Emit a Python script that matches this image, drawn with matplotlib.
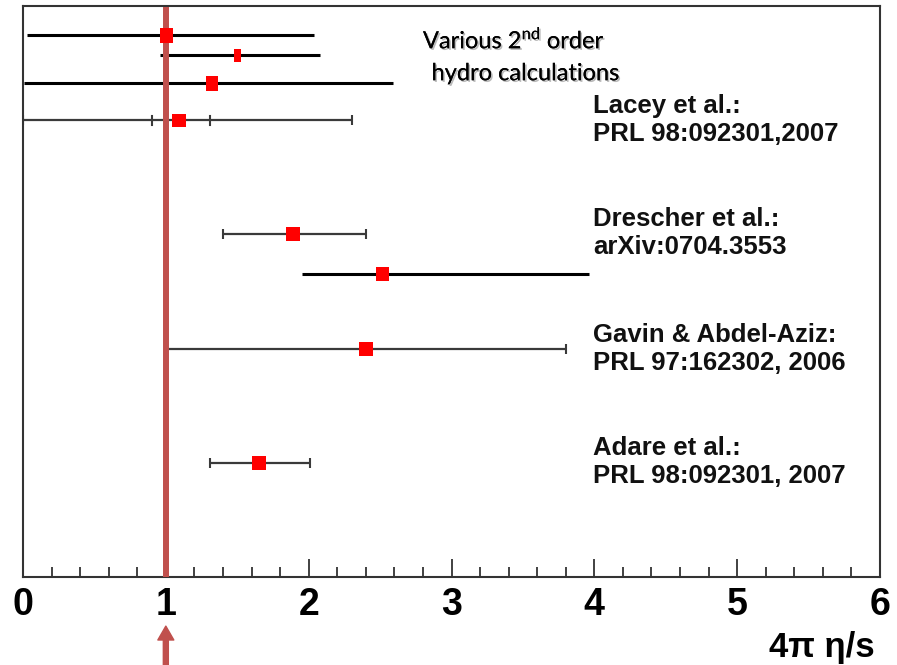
import matplotlib
matplotlib.use("Agg")
import matplotlib.pyplot as plt
import matplotlib.patheffects as pe
from matplotlib.ticker import MultipleLocator

# eta/s estimates: central value, error range, row position
rows_y = [9.5, 9.15, 8.65, 8.0, 6.0, 5.3, 4.0, 2.0]
centre = [1.00, 1.50, 1.32, 1.09, 1.89, 2.51, 2.40, 1.65]
low = [0.03, 0.96, 0.01, 0.00, 1.40, 1.95, 1.00, 1.31]
high = [2.04, 2.08, 2.59, 2.30, 2.40, 3.96, 3.80, 2.01]
# hydro rows are drawn as plain thick bars, the others with caps
hydro = [True, True, True, False, False, True, False, False]
# inner (statistical) error on the Lacey point
lacey_stat = [0.90, 1.31]

refs = [
    ("Lacey et al.:\nPRL 98:092301,2007", 8.0),
    ("Drescher et al.:\narXiv:0704.3553", 6.02),
    ("Gavin & Abdel-Aziz:\nPRL 97:162302, 2006", 4.0),
    ("Adare et al.:\nPRL 98:092301, 2007", 2.02),
]
bound = 1.0

# marker aspect (width, height) per row
shapes = [(13, 15), (7, 13), (12, 15), (14, 13), (14, 14), (13, 14), (14, 14), (14, 14)]

red = "#C0504D"

fig = plt.figure(figsize=(8.97, 6.65), dpi=100)
ax = fig.add_axes([23 / 897, 88 / 665, 857 / 897, 571 / 665])
ax.set_xlim(0, 6)
ax.set_ylim(0, 10)

for i in range(len(rows_y)):
    y = rows_y[i]
    if hydro[i]:
        ax.plot([low[i], high[i]], [y, y], color="black", lw=2.2, zorder=2,
                solid_capstyle="butt")
    else:
        ax.errorbar(centre[i], y, xerr=[[centre[i] - low[i]], [high[i] - centre[i]]],
                    fmt="none", ecolor="#3a3a3a", elinewidth=1.6, capsize=3.3,
                    capthick=1.5, zorder=2)
    w, h = shapes[i]
    m = max(w, h)
    verts = [(-w / m, -h / m), (w / m, -h / m), (w / m, h / m), (-w / m, h / m), (-w / m, -h / m)]
    ax.plot(centre[i], y, marker=verts, markersize=m * 0.72,
            color="#FF0000", mec="#FF0000", mew=0, ls="none", zorder=4)

# stat error ticks on the Lacey row
for xs in lacey_stat:
    ax.plot([xs, xs], [rows_y[3] - 0.08, rows_y[3] + 0.08], color="#3a3a3a", lw=1.5, zorder=2)

ax.axvline(bound, ymin=0, ymax=0.993, color=red, lw=4.3, zorder=3)

for txt, y in refs:
    ax.text(3.99, y, txt, fontsize=18.5, fontweight="bold", family="Liberation Sans",
            va="center", ha="left", linespacing=1.2, color="#111111")

shadow = [pe.withSimplePatchShadow(offset=(1.2, -1.2), shadow_rgbFace="#777777", alpha=0.5),
          pe.Normal()]
ax.text(2.8, 9.26, r"Various 2$^{\mathregular{nd}}$ order", fontsize=17, family="Lato",
        va="baseline", ha="left", path_effects=shadow)
ax.text(2.86, 8.70, "hydro calculations", fontsize=17, family="Lato",
        va="baseline", ha="left", path_effects=shadow)

ax.xaxis.set_major_locator(MultipleLocator(1))
ax.xaxis.set_minor_locator(MultipleLocator(0.2))
ax.tick_params(axis="x", which="major", direction="in", length=13, width=1.3,
               color="#333333", pad=7, labelsize=27)
ax.tick_params(axis="x", which="minor", direction="in", length=7, width=1.3, color="#333333")
ax.set_yticks([])
for lab in ax.get_xticklabels():
    lab.set_fontweight("bold")
    lab.set_family("Liberation Sans")

for s in ax.spines.values():
    s.set_color("#333333")
    s.set_linewidth(1.5)

ax.text(0.994, -0.140, "4π η/s", transform=ax.transAxes, ha="right", va="baseline",
        fontsize=25, fontweight="bold", family="Liberation Sans")

ax.annotate("", xy=(bound, -0.086), xytext=(bound, -0.156),
            xycoords=("data", "axes fraction"), textcoords=("data", "axes fraction"),
            arrowprops=dict(width=3.6, headwidth=11.5, headlength=10, color=red, shrink=0),
            annotation_clip=False)

fig.savefig("out.png", dpi=100)
